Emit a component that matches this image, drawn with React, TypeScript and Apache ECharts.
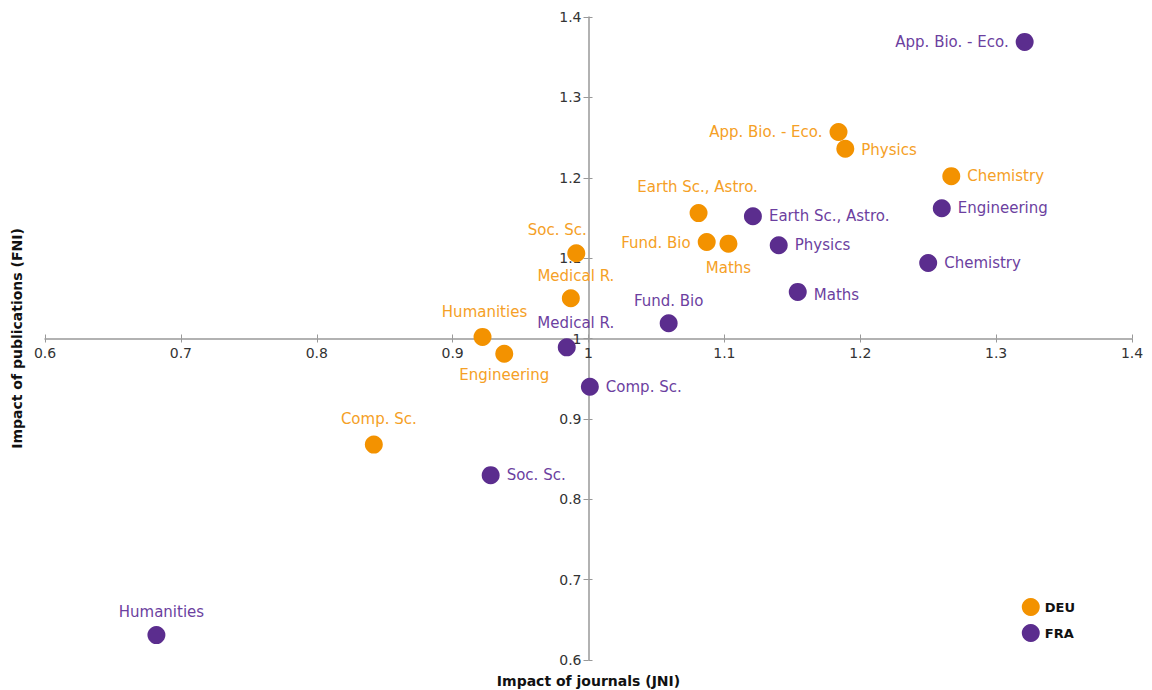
import React, { useEffect, useRef } from "react";
import * as echarts from "echarts";

const fields = [
  "App. Bio. - Eco.",
  "Physics",
  "Chemistry",
  "Earth Sc., Astro.",
  "Fund. Bio",
  "Maths",
  "Soc. Sc.",
  "Medical R.",
  "Humanities",
  "Engineering",
  "Comp. Sc.",
];

// DEU: impact of journals (JNI), impact of publications (FNI)
const deuJNI = [1.184, 1.189, 1.267, 1.081, 1.087, 1.103, 0.991, 0.987, 0.922, 0.938, 0.842];
const deuFNI = [1.257, 1.236, 1.202, 1.156, 1.120, 1.118, 1.106, 1.050, 1.002, 0.981, 0.868];

// FRA
const fraJNI = [1.321, 1.140, 1.250, 1.121, 1.059, 1.154, 0.928, 0.984, 0.682, 1.260, 1.001];
const fraFNI = [1.369, 1.116, 1.094, 1.152, 1.019, 1.058, 0.830, 0.989, 0.631, 1.162, 0.940];

const xTicks = [0.6, 0.7, 0.8, 0.9, 1.0, 1.1, 1.2, 1.3, 1.4];
const yTicks = [0.6, 0.7, 0.8, 0.9, 1.0, 1.1, 1.2, 1.3, 1.4];

const xTitle = "Impact of journals (JNI)";
const yTitle = "Impact of publications (FNI)";

const X_CROSS = 1; // y axis crosses x axis at JNI = 1
const Y_CROSS = 1; // x axis crosses y axis at FNI = 1

// label placement (style only)
type Place = { position: string; offset?: number[] };
const deuLabel: Record<string, Place> = {
  "App. Bio. - Eco.": { position: "left" },
  Physics: { position: "right", offset: [0, 1] },
  Chemistry: { position: "right" },
  "Earth Sc., Astro.": { position: "top", offset: [-1, -3] },
  "Fund. Bio": { position: "left", offset: [0, 1] },
  Maths: { position: "bottom", offset: [0, 1] },
  "Soc. Sc.": { position: "top", offset: [-19, 0] },
  "Medical R.": { position: "top", offset: [5, 1] },
  Humanities: { position: "top", offset: [2, -1] },
  Engineering: { position: "bottom", offset: [0, -2] },
  "Comp. Sc.": { position: "top", offset: [5, -2] },
};
const fraLabel: Record<string, Place> = {
  "App. Bio. - Eco.": { position: "left" },
  Physics: { position: "right" },
  Chemistry: { position: "right" },
  "Earth Sc., Astro.": { position: "right" },
  "Fund. Bio": { position: "top", offset: [0, 1] },
  Maths: { position: "right", offset: [0, 3] },
  "Soc. Sc.": { position: "right" },
  "Medical R.": { position: "top", offset: [9, -1] },
  Humanities: { position: "top", offset: [5, 0] },
  Engineering: { position: "right" },
  "Comp. Sc.": { position: "right" },
};

const ORANGE = "#F39200";
const PURPLE = "#5B2D8E";
const ORANGE_TXT = "#F5A026";
const PURPLE_TXT = "#6C3FA0";
const AXIS = "#999999";
const FONT = "'DejaVu Sans', sans-serif";

const W = 1152;
const H = 690;
const G = { left: 45, right: 20, top: 17, bottom: 30 };

function buildData(xs: number[], ys: number[], place: Record<string, Place>) {
  return fields.map((name, i) => ({
    name,
    value: [xs[i], ys[i]],
    label: {
      position: place[name].position,
      offset: place[name].offset || [0, 0],
    },
  }));
}

const fmt = (v: number) => String(Math.round(v * 10) / 10);

export default function App() {
  const ref = useRef<HTMLDivElement>(null);
  useEffect(() => {
    if (!ref.current) return;
    const chart = echarts.init(ref.current, undefined, { renderer: "svg" });

    const xMin = xTicks[0];
    const xMax = xTicks[xTicks.length - 1];
    const yMin = yTicks[0];
    const yMax = yTicks[yTicks.length - 1];
    const plotW = W - G.left - G.right;
    const plotH = H - G.top - G.bottom;
    // shift axes from the grid edge to the crossing point
    const xAxisOffset = -((Y_CROSS - yMin) / (yMax - yMin)) * plotH;
    const yAxisOffset = -((X_CROSS - xMin) / (xMax - xMin)) * plotW;
    const crossX = G.left - yAxisOffset;

    const labelStyle = { color: "#333", fontSize: 14, fontFamily: FONT, formatter: fmt, margin: 7 };

    const xBase = {
      type: "value" as const,
      min: xMin,
      max: xMax,
      interval: 0.1,
      position: "bottom" as const,
      offset: xAxisOffset,
      splitLine: { show: false },
    };
    const yBase = {
      type: "value" as const,
      min: yMin,
      max: yMax,
      interval: 0.1,
      position: "left" as const,
      offset: yAxisOffset,
      splitLine: { show: false },
    };

    chart.setOption({
      animation: false,
      textStyle: { fontFamily: FONT },
      grid: { ...G, containLabel: false, outerBoundsMode: "none" },
      legend: {
        orient: "vertical",
        right: 72,
        top: 593,
        icon: "circle",
        itemWidth: 18,
        itemHeight: 18,
        itemGap: 8,
        textStyle: { fontSize: 13, fontWeight: "bold", color: "#111", fontFamily: FONT },
        data: ["DEU", "FRA"],
      },
      graphic: [
        {
          type: "text",
          x: crossX,
          y: 681,
          style: {
            text: xTitle,
            fontSize: 14,
            fontWeight: "bold",
            fill: "#111",
            fontFamily: FONT,
            align: "center",
            verticalAlign: "middle",
          },
        },
        {
          type: "text",
          x: 17,
          y: G.top + plotH / 2,
          rotation: Math.PI / 2,
          style: {
            text: yTitle,
            fontSize: 14,
            fontWeight: "bold",
            fill: "#111",
            fontFamily: FONT,
            align: "center",
            verticalAlign: "middle",
          },
        },
      ],
      xAxis: [
        {
          ...xBase,
          axisLine: { onZero: false, lineStyle: { color: AXIS, width: 1.5 } },
          axisTick: { show: true, length: 4, lineStyle: { color: AXIS } },
          axisLabel: labelStyle,
        },
        {
          ...xBase,
          axisLine: { show: false, onZero: false },
          axisTick: { show: true, inside: true, length: 4, lineStyle: { color: AXIS } },
          axisLabel: { show: false },
        },
      ],
      yAxis: [
        {
          ...yBase,
          axisLine: { onZero: false, lineStyle: { color: AXIS, width: 1.5 } },
          axisTick: { show: true, length: 5, lineStyle: { color: AXIS } },
          axisLabel: labelStyle,
        },
        {
          ...yBase,
          axisLine: { show: false, onZero: false },
          axisTick: { show: true, inside: true, length: 4, lineStyle: { color: AXIS } },
          axisLabel: { show: false },
        },
      ],
      series: [
        {
          name: "DEU",
          type: "scatter",
          symbolSize: 18,
          itemStyle: { color: ORANGE, opacity: 1 },
          label: {
            show: true,
            formatter: "{b}",
            color: ORANGE_TXT,
            fontSize: 15,
            fontFamily: FONT,
            distance: 7,
          },
          data: buildData(deuJNI, deuFNI, deuLabel),
        },
        {
          name: "FRA",
          type: "scatter",
          symbolSize: 18,
          itemStyle: { color: PURPLE, opacity: 1 },
          label: {
            show: true,
            formatter: "{b}",
            color: PURPLE_TXT,
            fontSize: 15,
            fontFamily: FONT,
            distance: 7,
          },
          data: buildData(fraJNI, fraFNI, fraLabel),
        },
      ],
    });
    return () => chart.dispose();
  }, []);
  return <div ref={ref} style={{ position: "absolute", left: 0, top: 0, width: W, height: H }} />;
}
